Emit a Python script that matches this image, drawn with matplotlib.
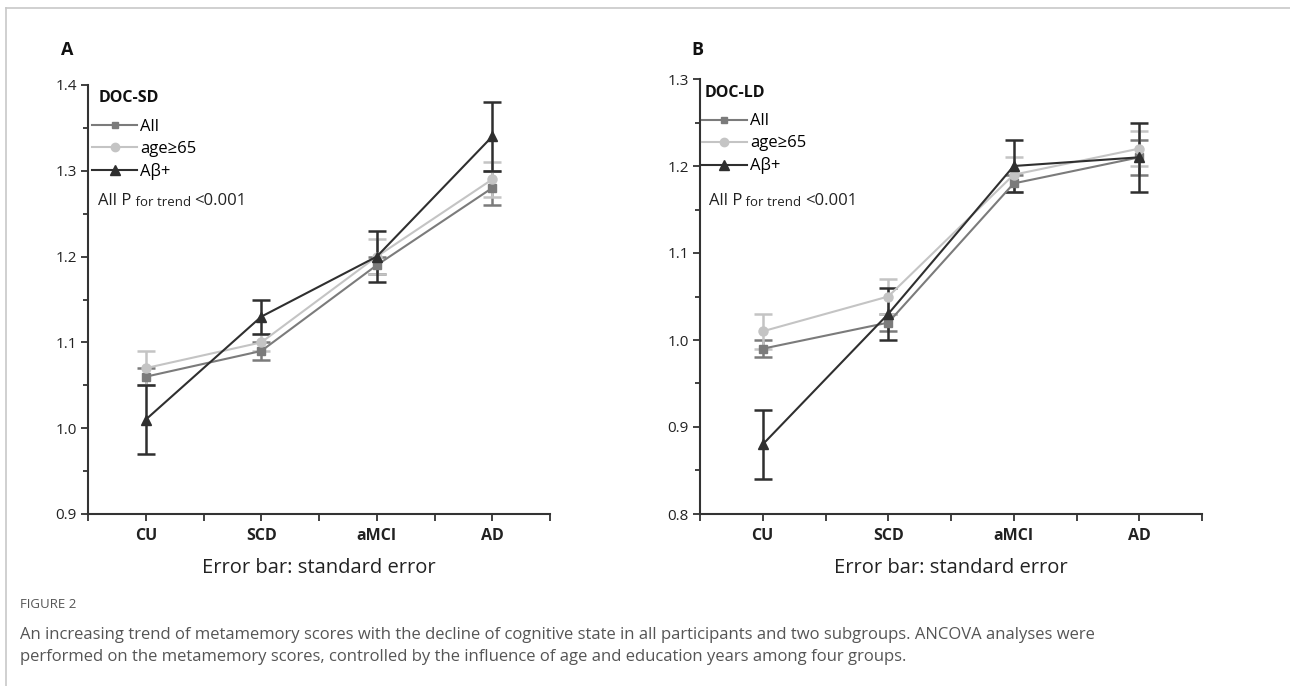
import numpy as np
import matplotlib
matplotlib.use('Agg')
import matplotlib.pyplot as plt
from matplotlib.lines import Line2D

plt.rcParams['font.family'] = ['Open Sans', 'DejaVu Sans']

#%% Data

groups      = ['CU', 'SCD', 'aMCI', 'AD']
series      = ['All', 'age≥65', 'Aβ+']

# panel A, DOC-SD
sd_all      = [1.06, 1.09, 1.19, 1.28]
sd_all_se   = [0.01, 0.01, 0.01, 0.02]
sd_age      = [1.07, 1.10, 1.20, 1.29]
sd_age_se   = [0.02, 0.01, 0.02, 0.02]
sd_ab       = [1.01, 1.13, 1.20, 1.34]
sd_ab_se    = [0.04, 0.02, 0.03, 0.04]

# panel B, DOC-LD
ld_all      = [0.99, 1.02, 1.18, 1.21]
ld_all_se   = [0.01, 0.01, 0.01, 0.02]
ld_age      = [1.01, 1.05, 1.19, 1.22]
ld_age_se   = [0.02, 0.02, 0.02, 0.02]
ld_ab       = [0.88, 1.03, 1.20, 1.21]
ld_ab_se    = [0.04, 0.03, 0.03, 0.04]

colors      = ['#7b7b7b', '#c4c4c4', '#2f2f2f']
markers     = ['s', 'o', '^']
msizes      = [5.5, 6.5, 7]

W, H = 1290, 686
fig = plt.figure(figsize=(W / 100, H / 100), dpi=100)

# frame of the figure card
fig.add_artist(Line2D([6 / W, 1], [1 - 8 / H, 1 - 8 / H], color='#c8c8c8', lw=1.2))
fig.add_artist(Line2D([6 / W, 6 / W], [0, 1 - 8 / H], color='#c8c8c8', lw=1.2))


def panel(rect, vals, ses, ylim, title, letter, letter_x, title_pos, leg_pos, p_pos):
    ax = fig.add_axes(rect)
    x = np.arange(1, len(groups) + 1)
    for v, s, c, m, ms, lab in zip(vals, ses, colors, markers, msizes, series):
        ax.errorbar(x, v, yerr=s, color=c, marker=m, markersize=ms,
                    lw=1.5, elinewidth=1.8, capsize=6.5, capthick=1.8,
                    label=lab, zorder=3)
    ax.set_xlim(0.5, 4.5)
    ax.set_ylim(*ylim)
    ax.set_xticks(x)
    ax.set_xticklabels(groups, fontweight='bold', fontsize=11.5)
    ax.set_xticks(np.arange(0.5, 4.6, 1.0), minor=True)
    yt = np.arange(ylim[0], ylim[1] + 0.001, 0.1)
    ax.set_yticks(yt)
    ax.set_yticklabels(['%.1f' % t for t in yt], fontsize=11)
    ax.set_yticks(np.arange(ylim[0] + 0.05, ylim[1], 0.1), minor=True)
    ax.tick_params(axis='both', which='major', direction='out', length=5, width=1.3,
                   color='#333333', labelcolor='#222222', pad=3)
    ax.tick_params(axis='x', which='major', pad=5)
    ax.tick_params(axis='y', which='minor', direction='out', length=3.5, width=1.3, color='#333333')
    ax.tick_params(axis='x', which='minor', direction='out', length=5, width=1.3, color='#333333')
    for sp in ['top', 'right']:
        ax.spines[sp].set_visible(False)
    for sp in ['left', 'bottom']:
        ax.spines[sp].set_linewidth(1.5)
        ax.spines[sp].set_color('#333333')
    ax.set_xlabel('Error bar: standard error', fontsize=14.5, color='#222222', labelpad=10)

    # legend title drawn on its own, entries below
    ax.text(title_pos[0], title_pos[1], title, transform=ax.transAxes, fontsize=11.5,
            fontweight='bold', color='#111111', va='center', ha='left')
    ax.legend(handles=[Line2D([], [], color=c, marker=m, markersize=ms - 0.5, lw=1.5)
                       for c, m, ms in zip(colors, markers, msizes)],
              labels=series, loc='upper left', bbox_to_anchor=leg_pos,
              frameon=False, fontsize=12, handlelength=2.7, handletextpad=0.2,
              labelspacing=0.36, borderaxespad=0.0, borderpad=0.0)

    # "All P for trend <0.001"
    t1 = ax.text(p_pos[0], p_pos[1], 'All P', transform=ax.transAxes, fontsize=12,
                 color='#222222', va='bottom')
    t2 = ax.annotate(' for trend ', xy=(1, 0), xycoords=t1, fontsize=9.5,
                     color='#222222', va='bottom')
    ax.annotate('<0.001', xy=(1, 0), xycoords=t2, fontsize=12,
                color='#222222', va='bottom')

    fig.text(letter_x / W, 1 - 50 / H, letter, fontsize=13, fontweight='bold',
             va='center', ha='left', color='#111111')
    return ax


axA = panel([88 / W, 172 / H, 462 / W, 429 / H],
            [sd_all, sd_age, sd_ab], [sd_all_se, sd_age_se, sd_ab_se],
            (0.9, 1.4), 'DOC-SD', 'A', 61, (0.022, 0.970), (0.009, 0.920), (0.022, 0.711))
axB = panel([700 / W, 172 / H, 502 / W, 435 / H],
            [ld_all, ld_age, ld_ab], [ld_all_se, ld_age_se, ld_ab_se],
            (0.8, 1.3), 'DOC-LD', 'B', 691, (0.010, 0.968), (0.003, 0.921), (0.018, 0.701))

fig.text(20 / W, 1 - 604 / H, 'FIGURE 2', fontsize=9.5, color='#555555', va='center')
fig.text(20 / W, 1 - 646 / H,
         'An increasing trend of metamemory scores with the decline of cognitive state in all participants and two subgroups. ANCOVA analyses were\n'
         'performed on the metamemory scores, controlled by the influence of age and education years among four groups.',
         fontsize=12, color='#555555', va='center', linespacing=1.5)

plt.savefig('out.png', dpi=100)
